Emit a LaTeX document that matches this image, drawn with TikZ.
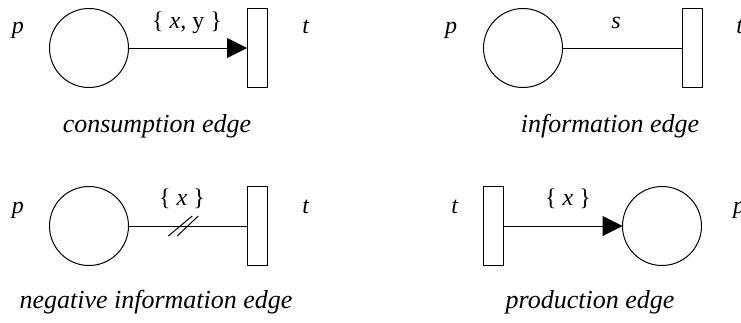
\documentclass[tikz,border=0pt]{standalone}
\usepackage{fontspec}
\setmainfont{Liberation Serif}
\usetikzlibrary{arrows.meta,calc}
\begin{document}
\begin{tikzpicture}[x=1pt,y=-1pt,
  place/.style={draw,circle,line width=1pt,minimum size=79pt,inner sep=0pt,outer sep=0pt},
  trans/.style={draw,rectangle,line width=1pt,minimum width=20pt,minimum height=79pt,inner sep=0pt,outer sep=0pt},
  conn/.style={line width=1pt},
  arcarrow/.style={conn,-{Triangle[length=20pt,width=20pt]}},
  lbl/.style={anchor=base,inner sep=0pt,font=\fontsize{24}{28}\selectfont},
  captext/.style={anchor=base,inner sep=0pt,font=\fontsize{26}{30}\selectfont\itshape}]
\useasboundingbox (0,0) rectangle (741,322);
% panel 1: consumption edge
\node[place] (c1) at (89,48) {};
\node[trans] (r1) at (257,48) {};
\draw[arcarrow] (c1.east) -- (r1.west);
\node[lbl] (l1) at (187,28) {\{ \textit{x}, y \}};
\node[lbl] (p1) at (18,33) {\textit{p}};
\node[lbl] (t1) at (306,33) {\textit{t}};
\node[captext] (k1) at (157,132) {consumption edge};
% panel 2: information edge
\node[place] (c2) at (523,48) {};
\node[trans] (r2) at (692,48) {};
\draw[conn] (c2.east) -- (r2.west);
\node[lbl] (l2) at (616,28) {\textit{s}};
\node[lbl] (p2) at (451,33) {\textit{p}};
\node[lbl] (t2) at (740,33) {\textit{t}};
\node[captext] (k2) at (610,132) {information edge};
% panel 3: negative information edge
\node[place] (c3) at (89,226) {};
\node[trans] (r3) at (257,226) {};
\draw[conn] (c3.east) -- (r3.west);
\coordinate (m3) at ($(c3.east)!0.5!(r3.west)$);
\draw[conn] ($(m3)+(-19.5,10)$) -- ($(m3)+(4.5,-10)$);
\draw[conn] ($(m3)+(-10.5,10)$) -- ($(m3)+(10.5,-10)$);
\node[lbl] (l3) at (182,205) {\{ \textit{x} \}};
\node[lbl] (p3) at (18,213) {\textit{p}};
\node[lbl] (t3) at (306,213) {\textit{t}};
\node[captext] (k3) at (156,308) {negative information edge};
% panel 4: production edge
\node[trans] (r4) at (493,226) {};
\node[place] (c4) at (662,226) {};
\draw[arcarrow] (r4.east) -- (c4.west);
\node[lbl] (l4) at (568,205) {\{ \textit{x} \}};
\node[lbl] (t4) at (455,213) {\textit{t}};
\node[lbl] (p4) at (739,213) {\textit{p}};
\node[captext] (k4) at (590,308) {production edge};
\end{tikzpicture}
\end{document}
